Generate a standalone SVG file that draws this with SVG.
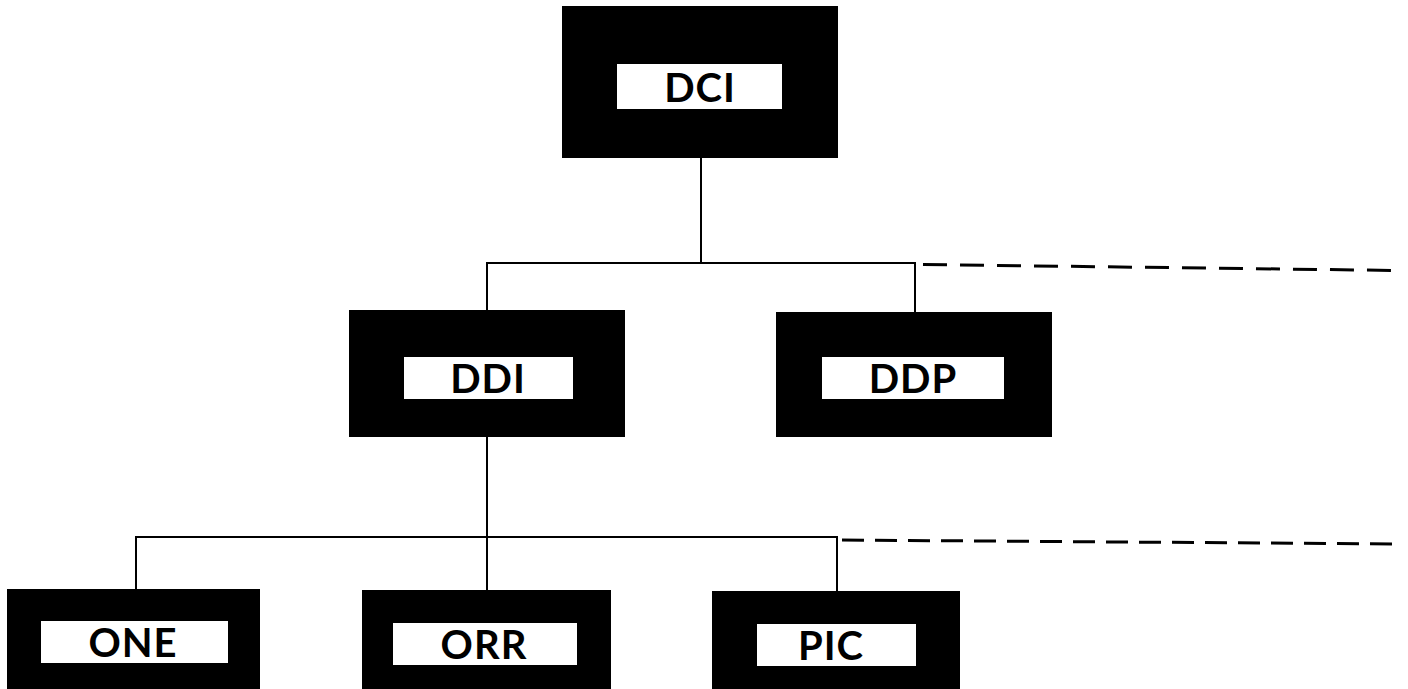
<svg xmlns="http://www.w3.org/2000/svg" width="1408" height="689" viewBox="0 0 1408 689">
<style>
.outer{fill:#000}
.inner{fill:#fff}
.lbl{font-family:Lato,"Liberation Sans",sans-serif;font-weight:bold;font-size:40px;fill:#000;text-anchor:middle;letter-spacing:1px}
.ln{stroke:#000;stroke-width:2;fill:none}
.dash{stroke:#000;stroke-width:3;fill:none;stroke-dasharray:24 13}
.dash2{stroke:#000;stroke-width:3;fill:none;stroke-dasharray:22 11}
</style>
<rect width="1408" height="689" fill="#fff"/>
<g id="connectors">
<polyline class="ln" points="701,158 701,263"/>
<polyline class="ln" points="487,310 487,263 915,263 915,312"/>
<polyline class="ln" points="487,437 487,537"/>
<polyline class="ln" points="136,589 136,537 837,537 837,591"/>
<line class="ln" x1="487" y1="537" x2="487" y2="590"/>
<line class="dash" x1="923" y1="264.5" x2="1400" y2="270.5"/>
<line class="dash2" x1="842" y1="540" x2="1400" y2="544"/>
</g>
<g id="DCI">
<rect class="outer" x="562" y="6" width="276" height="152"/>
<rect class="inner" x="617" y="64" width="165" height="45"/>
<text class="lbl" x="700" y="102">DCI</text>
</g>
<g id="DDI">
<rect class="outer" x="349" y="310" width="276" height="127"/>
<rect class="inner" x="404" y="357" width="169" height="42"/>
<text class="lbl" x="488" y="393">DDI</text>
</g>
<g id="DDP">
<rect class="outer" x="776" y="312" width="276" height="125"/>
<rect class="inner" x="822" y="357" width="182" height="42"/>
<text class="lbl" x="913" y="393">DDP</text>
</g>
<g id="ONE">
<rect class="outer" x="7" y="589" width="253" height="110"/>
<rect class="inner" x="41" y="621" width="187" height="42"/>
<text class="lbl" x="133" y="657">ONE</text>
</g>
<g id="ORR">
<rect class="outer" x="362" y="590" width="249" height="110"/>
<rect class="inner" x="393" y="623" width="184" height="42"/>
<text class="lbl" x="484" y="659">ORR</text>
</g>
<g id="PIC">
<rect class="outer" x="712" y="591" width="248" height="110"/>
<rect class="inner" x="757" y="624" width="159" height="42"/>
<text class="lbl" x="831" y="660">PIC</text>
</g>
</svg>
